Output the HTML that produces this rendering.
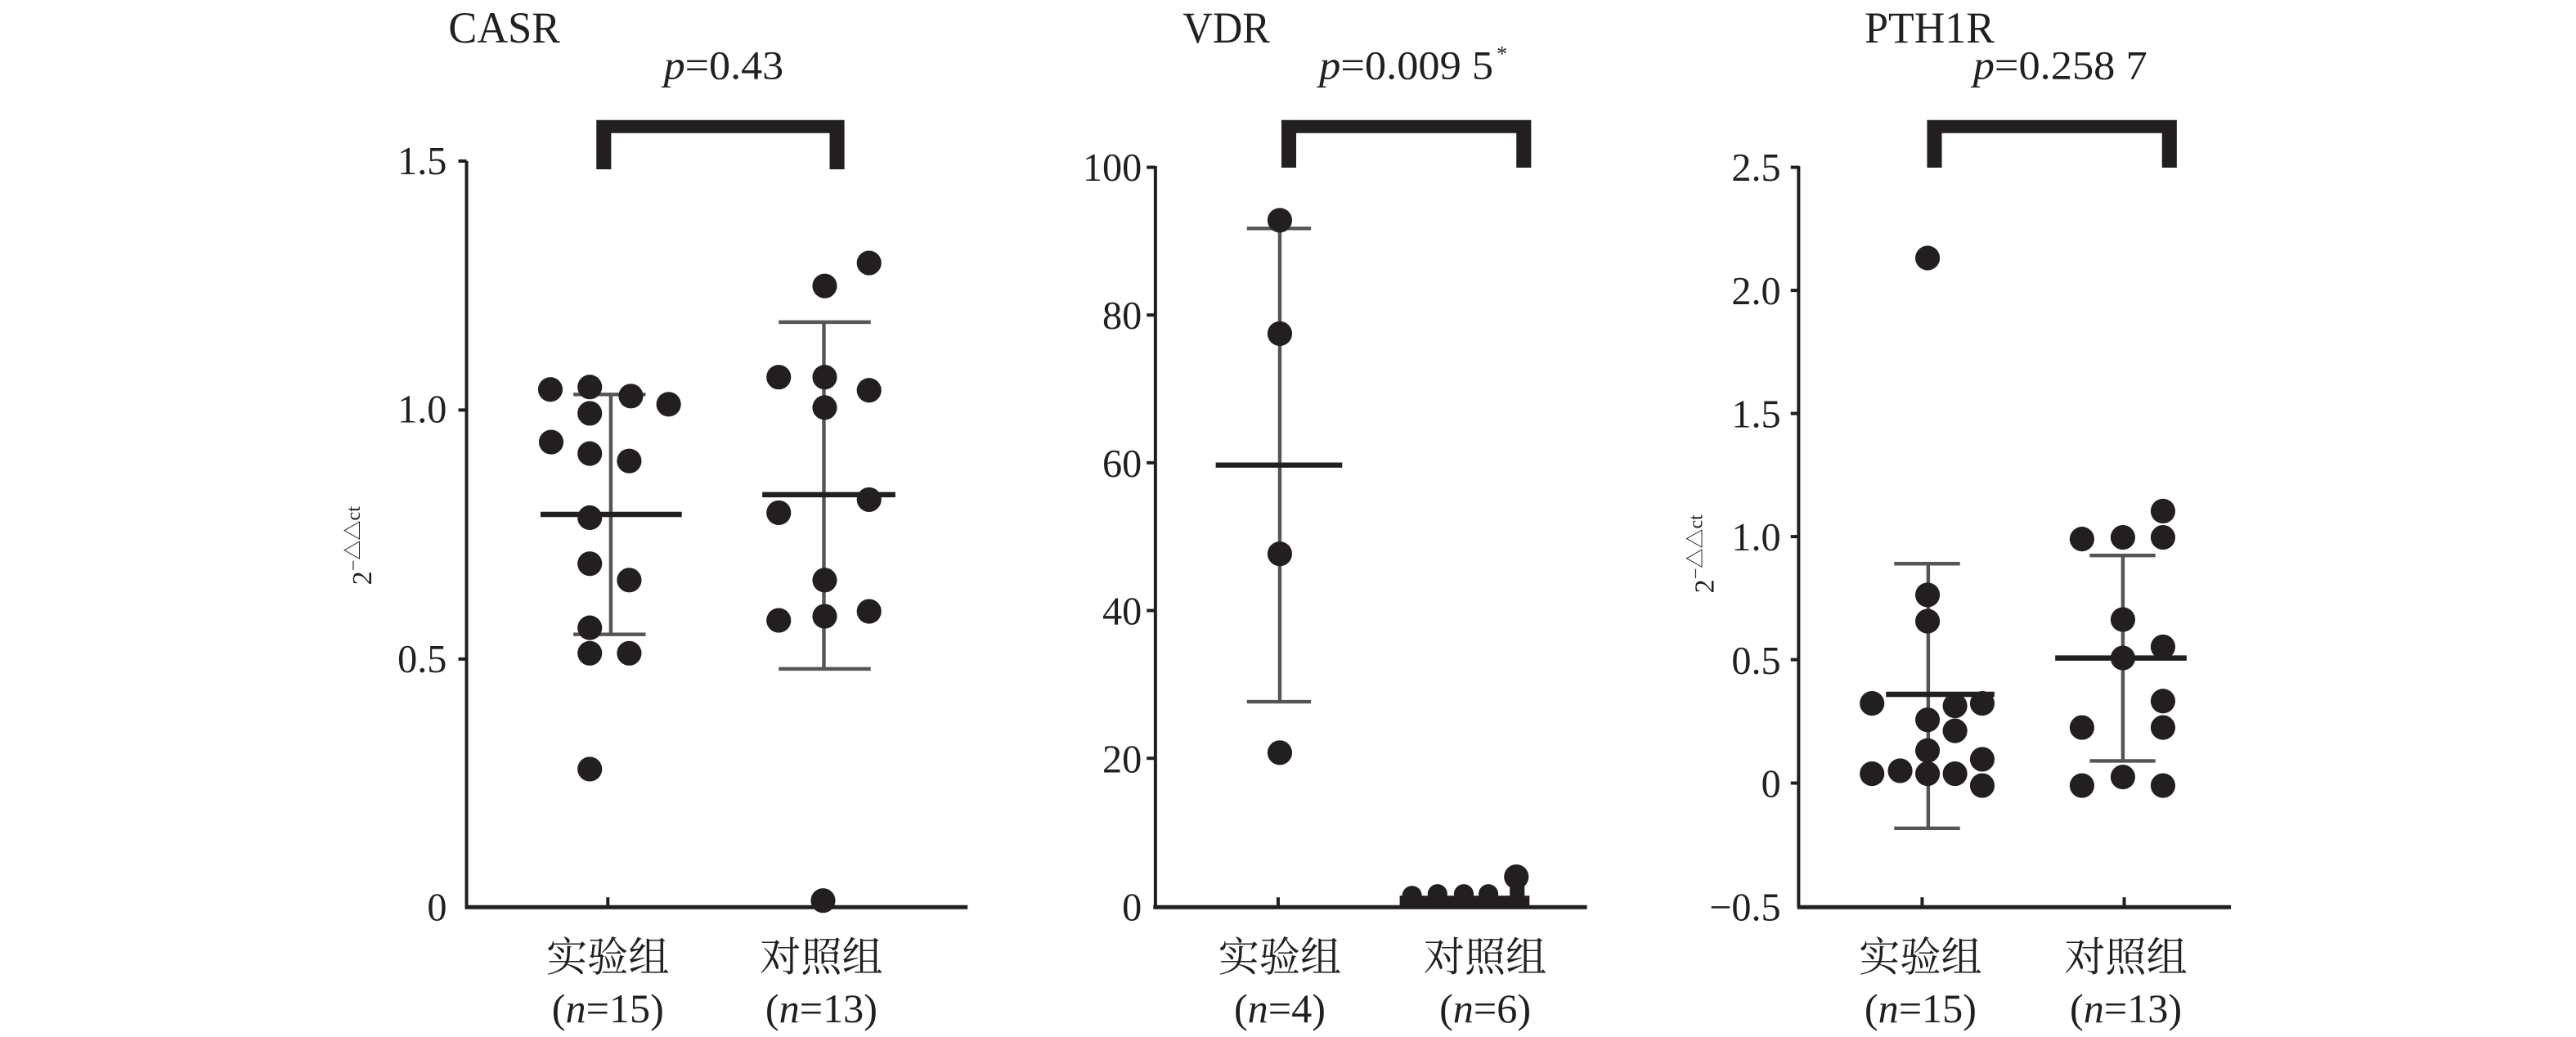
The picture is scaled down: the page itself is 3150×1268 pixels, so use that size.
<!DOCTYPE html>
<html><head><meta charset="utf-8"><style>
html,body{margin:0;padding:0;background:#fff;}
svg{display:block;}
text{font-family:"Liberation Serif","Noto Serif CJK SC",serif;fill:#231f20;}
.cn{font-family:"Liberation Serif","Noto Serif CJK SC","Noto Sans CJK SC",serif;}
</style></head><body>
<svg width="3150" height="1268" viewBox="0 0 1568 631" preserveAspectRatio="none" xmlns="http://www.w3.org/2000/svg">
<g fill="#231f20">
<!-- ================= CASR ================= -->
<text x="273" y="26" font-size="27" textLength="68" lengthAdjust="spacingAndGlyphs">CASR</text>
<text x="404" y="48" font-size="25" textLength="73" lengthAdjust="spacingAndGlyphs"><tspan font-style="italic">p</tspan>=0.43</text>
<path d="M363 73 H514 V103 H505 V81 H372 V103 H363 Z"/>
<line x1="284" y1="98" x2="284" y2="552" stroke="#231f20" stroke-width="2"/>
<line x1="283" y1="552" x2="589" y2="552" stroke="#231f20" stroke-width="2.5"/>
<g stroke="#231f20" stroke-width="2">
<line x1="279" y1="98" x2="284" y2="98"/><line x1="279" y1="249.5" x2="284" y2="249.5"/><line x1="279" y1="401" x2="284" y2="401"/>
<line x1="370" y1="552" x2="370" y2="546"/><line x1="502" y1="552" x2="502" y2="546"/>
</g>
<g font-size="24" text-anchor="end">
<text x="272" y="106">1.5</text><text x="272" y="257">1.0</text><text x="272" y="409">0.5</text><text x="272" y="560">0</text>
</g>
<text transform="translate(226,356) rotate(-90)" font-size="17">2<tspan font-size="12" dy="-7">−△△ct</tspan></text>
<g stroke="#555" stroke-width="2.2">
<line x1="371.8" y1="240" x2="371.8" y2="386"/><line x1="349" y1="240" x2="393" y2="240"/><line x1="349" y1="386" x2="393" y2="386"/>
<line x1="501.5" y1="196" x2="501.5" y2="407"/><line x1="474" y1="196" x2="530" y2="196"/><line x1="474" y1="407" x2="530" y2="407"/>
</g>
<g stroke="#231f20" stroke-width="3.2">
<line x1="329" y1="313" x2="415" y2="313"/><line x1="464" y1="301" x2="545" y2="301"/>
</g>
<g>
<circle cx="335" cy="237" r="7.5"/><circle cx="359" cy="235.5" r="7.5"/><circle cx="384" cy="241" r="7.5"/><circle cx="407" cy="246" r="7.5"/>
<circle cx="359" cy="251.5" r="7.5"/><circle cx="335.5" cy="269" r="7.5"/><circle cx="359" cy="276" r="7.5"/><circle cx="383" cy="280.5" r="7.5"/>
<circle cx="359" cy="315" r="7.5"/><circle cx="359" cy="343" r="7.5"/><circle cx="383" cy="353" r="7.5"/><circle cx="359" cy="382" r="7.5"/>
<circle cx="359" cy="397.5" r="7.5"/><circle cx="383" cy="397.5" r="7.5"/><circle cx="359" cy="468" r="7.5"/>
<circle cx="474" cy="229.5" r="7.5"/><circle cx="502" cy="229.5" r="7.5"/><circle cx="529" cy="237.5" r="7.5"/><circle cx="502" cy="248" r="7.5"/>
<circle cx="529" cy="160" r="7.5"/><circle cx="502" cy="174" r="7.5"/><circle cx="474" cy="312" r="7.5"/><circle cx="529" cy="304" r="7.5"/>
<circle cx="502" cy="353" r="7.5"/><circle cx="474" cy="377.5" r="7.5"/><circle cx="502" cy="375" r="7.5"/><circle cx="529" cy="372" r="7.5"/>
<circle cx="501" cy="548" r="7.5"/>
</g>
<g text-anchor="middle" font-size="25">
<text class="cn" x="370" y="591">实验组</text><text class="cn" x="500" y="591">对照组</text>
<text x="370" y="622">(<tspan font-style="italic">n</tspan>=15)</text><text x="500" y="622">(<tspan font-style="italic">n</tspan>=13)</text>
</g>

<!-- ================= VDR ================= -->
<text x="720" y="26" font-size="27" textLength="53" lengthAdjust="spacingAndGlyphs">VDR</text>
<text x="803" y="48" font-size="25" textLength="106" lengthAdjust="spacingAndGlyphs"><tspan font-style="italic">p</tspan>=0.009 5</text>
<text x="911" y="37" font-size="13">*</text>
<path d="M780 73 H932 V102 H923 V81 H789 V102 H780 Z"/>
<line x1="703.3" y1="101" x2="703.3" y2="552" stroke="#231f20" stroke-width="2"/>
<line x1="702" y1="552" x2="966" y2="552" stroke="#231f20" stroke-width="2.5"/>
<g stroke="#231f20" stroke-width="2">
<line x1="698" y1="101.8" x2="703" y2="101.8"/><line x1="698" y1="191.7" x2="703" y2="191.7"/><line x1="698" y1="281.6" x2="703" y2="281.6"/>
<line x1="698" y1="371.5" x2="703" y2="371.5"/><line x1="698" y1="461.4" x2="703" y2="461.4"/>
<line x1="778" y1="552" x2="778" y2="546"/>
</g>
<g font-size="24" text-anchor="end">
<text x="695" y="110">100</text><text x="695" y="200">80</text><text x="695" y="290">60</text><text x="695" y="380">40</text><text x="695" y="470">20</text><text x="695" y="560">0</text>
</g>
<g stroke="#555" stroke-width="2.2">
<line x1="779" y1="139" x2="779" y2="427"/><line x1="759" y1="139" x2="798" y2="139"/><line x1="759" y1="427" x2="798" y2="427"/>
</g>
<line x1="740" y1="283" x2="817" y2="283" stroke="#231f20" stroke-width="3.2"/>
<circle cx="779" cy="134" r="7.5"/><circle cx="779" cy="203" r="7.5"/><circle cx="779" cy="337" r="7.5"/><circle cx="779" cy="458" r="7.5"/>
<rect x="852" y="545" width="79" height="7"/>
<circle cx="859.5" cy="545" r="6"/><circle cx="875" cy="544" r="6"/><circle cx="891" cy="544" r="6"/><circle cx="906" cy="544" r="6"/>
<circle cx="923" cy="533.5" r="7.5"/><rect x="919" y="533" width="9" height="15"/>
<g text-anchor="middle" font-size="25">
<text class="cn" x="779" y="591">实验组</text><text class="cn" x="904" y="591">对照组</text>
<text x="779" y="622">(<tspan font-style="italic">n</tspan>=4)</text><text x="904" y="622">(<tspan font-style="italic">n</tspan>=6)</text>
</g>

<!-- ================= PTH1R ================= -->
<text x="1135" y="26" font-size="27" textLength="79" lengthAdjust="spacingAndGlyphs">PTH1R</text>
<text x="1201" y="48" font-size="25" textLength="106" lengthAdjust="spacingAndGlyphs"><tspan font-style="italic">p</tspan>=0.258 7</text>
<path d="M1173 73 H1325 V102 H1316 V81 H1182 V102 H1173 Z"/>
<line x1="1094.8" y1="101" x2="1094.8" y2="552" stroke="#231f20" stroke-width="2"/>
<line x1="1094" y1="552" x2="1358" y2="552" stroke="#231f20" stroke-width="2.5"/>
<g stroke="#231f20" stroke-width="2">
<line x1="1090" y1="101.8" x2="1095" y2="101.8"/><line x1="1090" y1="176.7" x2="1095" y2="176.7"/><line x1="1090" y1="251.6" x2="1095" y2="251.6"/>
<line x1="1090" y1="326.5" x2="1095" y2="326.5"/><line x1="1090" y1="401.4" x2="1095" y2="401.4"/><line x1="1090" y1="476.5" x2="1095" y2="476.5"/>
<line x1="1170" y1="552" x2="1170" y2="546"/><line x1="1293" y1="552" x2="1293" y2="546"/>
</g>
<g font-size="24" text-anchor="end">
<text x="1084" y="110">2.5</text><text x="1084" y="185">2.0</text><text x="1084" y="260">1.5</text><text x="1084" y="335">1.0</text>
<text x="1084" y="410">0.5</text><text x="1084" y="485">0</text><text x="1084" y="560">−0.5</text>
</g>
<text transform="translate(1043,361) rotate(-90)" font-size="17">2<tspan font-size="12" dy="-7">−△△ct</tspan></text>
<g stroke="#555" stroke-width="2.2">
<line x1="1173.7" y1="343" x2="1173.7" y2="504"/><line x1="1153" y1="343" x2="1193" y2="343"/><line x1="1153" y1="504" x2="1193" y2="504"/>
<line x1="1292.2" y1="338" x2="1292.2" y2="463"/><line x1="1272" y1="338" x2="1312" y2="338"/><line x1="1272" y1="463" x2="1312" y2="463"/>
</g>
<g stroke="#231f20" stroke-width="3.2">
<line x1="1148" y1="422.5" x2="1214" y2="422.5"/><line x1="1251" y1="400.4" x2="1331" y2="400.4"/>
</g>
<g>
<circle cx="1173.3" cy="157" r="7.5"/><circle cx="1173.3" cy="362" r="7.5"/><circle cx="1173.3" cy="378" r="7.5"/>
<circle cx="1139.5" cy="428" r="7.5"/><circle cx="1190" cy="429.5" r="7.5"/><circle cx="1206.6" cy="428" r="7.5"/>
<circle cx="1173.3" cy="438" r="7.5"/><circle cx="1190" cy="444.7" r="7.5"/><circle cx="1173.3" cy="456.7" r="7.5"/>
<circle cx="1206.6" cy="462" r="7.5"/><circle cx="1139.5" cy="470.8" r="7.5"/><circle cx="1156.6" cy="469" r="7.5"/>
<circle cx="1173.3" cy="470.8" r="7.5"/><circle cx="1190" cy="470.8" r="7.5"/><circle cx="1206.6" cy="478" r="7.5"/>
<circle cx="1267.3" cy="328" r="7.5"/><circle cx="1292.2" cy="327" r="7.5"/><circle cx="1316.6" cy="327" r="7.5"/><circle cx="1316.6" cy="311" r="7.5"/>
<circle cx="1292.2" cy="377" r="7.5"/><circle cx="1316.6" cy="393.6" r="7.5"/><circle cx="1292.2" cy="400.4" r="7.5"/><circle cx="1316.6" cy="426.6" r="7.5"/>
<circle cx="1267.3" cy="442.7" r="7.5"/><circle cx="1316.6" cy="442.7" r="7.5"/><circle cx="1267.3" cy="478" r="7.5"/><circle cx="1292.2" cy="472.8" r="7.5"/>
<circle cx="1316.6" cy="478" r="7.5"/>
</g>
<g text-anchor="middle" font-size="25">
<text class="cn" x="1169" y="591">实验组</text><text class="cn" x="1294" y="591">对照组</text>
<text x="1169" y="622">(<tspan font-style="italic">n</tspan>=15)</text><text x="1294" y="622">(<tspan font-style="italic">n</tspan>=13)</text>
</g>
</g>
</svg>
</body></html>
